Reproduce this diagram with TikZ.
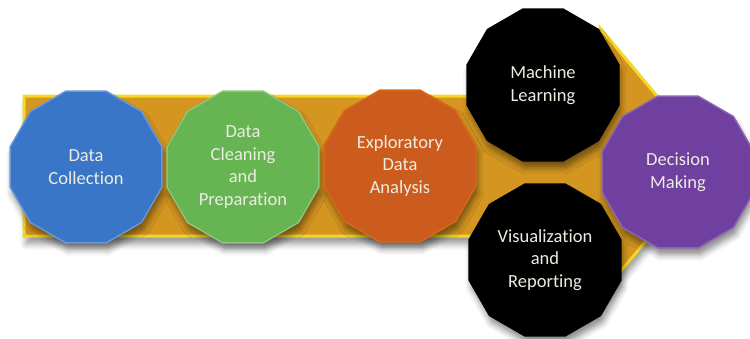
\documentclass[tikz,border=0pt]{standalone}
\usepackage{fontspec}
\setmainfont[Ligatures=NoCommon]{Carlito}
\usetikzlibrary{shapes.geometric,shadows.blur}

\definecolor{bandfill}{RGB}{212,150,32}
\definecolor{bandedge}{RGB}{245,215,35}
\definecolor{stepblue}{RGB}{58,118,200}
\definecolor{stepgreen}{RGB}{102,180,82}
\definecolor{steporange}{RGB}{204,92,30}
\definecolor{steppurple}{RGB}{112,64,160}
\definecolor{labeltext}{RGB}{236,236,226}

\tikzset{
  stage/.style={
    regular polygon, regular polygon sides=12, minimum size=157pt,
    inner sep=0pt, align=center, text=labeltext,
    font=\fontsize{18.5}{22.5}\selectfont, line width=1.4pt,
    blur shadow={shadow xshift=2pt, shadow yshift=-7pt, shadow blur radius=6pt, shadow opacity=45}
  },
  bluestage/.style={stage, fill=stepblue, draw=stepblue!75!white},
  greenstage/.style={stage, fill=stepgreen, draw=stepgreen!75!white},
  orangestage/.style={stage, fill=steporange, draw=steporange!70!orange},
  blackstage/.style={stage, fill=black, draw=black},
  purplestage/.style={stage, fill=steppurple, draw=steppurple!80!white},
  band/.style={fill=bandfill, draw=bandedge, line width=3pt, line join=miter,
    blur shadow={shadow xshift=2pt, shadow yshift=-8pt, shadow blur radius=6pt, shadow opacity=40}}
}

\begin{document}
\begin{tikzpicture}[x=1pt, y=-1pt]
  \useasboundingbox (0,0) rectangle (750,338);

  % broad process arrow behind the stages
  \path[band] (24,96) -- (600,96) -- (600,28) -- (712,162) -- (605,290)
    -- (605,236) -- (24,236) -- cycle;

  % stages
  \node[bluestage]   (collect) at (86,167)  {Data\\Collection};
  \node[greenstage]  (clean)   at (243,167) {Data\\Cleaning\\and\\Preparation};
  \node[orangestage] (explore) at (400,166) {Exploratory\\Data\\Analysis};
  \node[blackstage]  (learn)   at (543,85)  {Machine\\Learning};
  \node[blackstage]  (report)  at (545,260) {Visualization\\and\\Reporting};
  \node[purplestage] (decide)  at (678,172) {Decision\\Making};
\end{tikzpicture}
\end{document}
